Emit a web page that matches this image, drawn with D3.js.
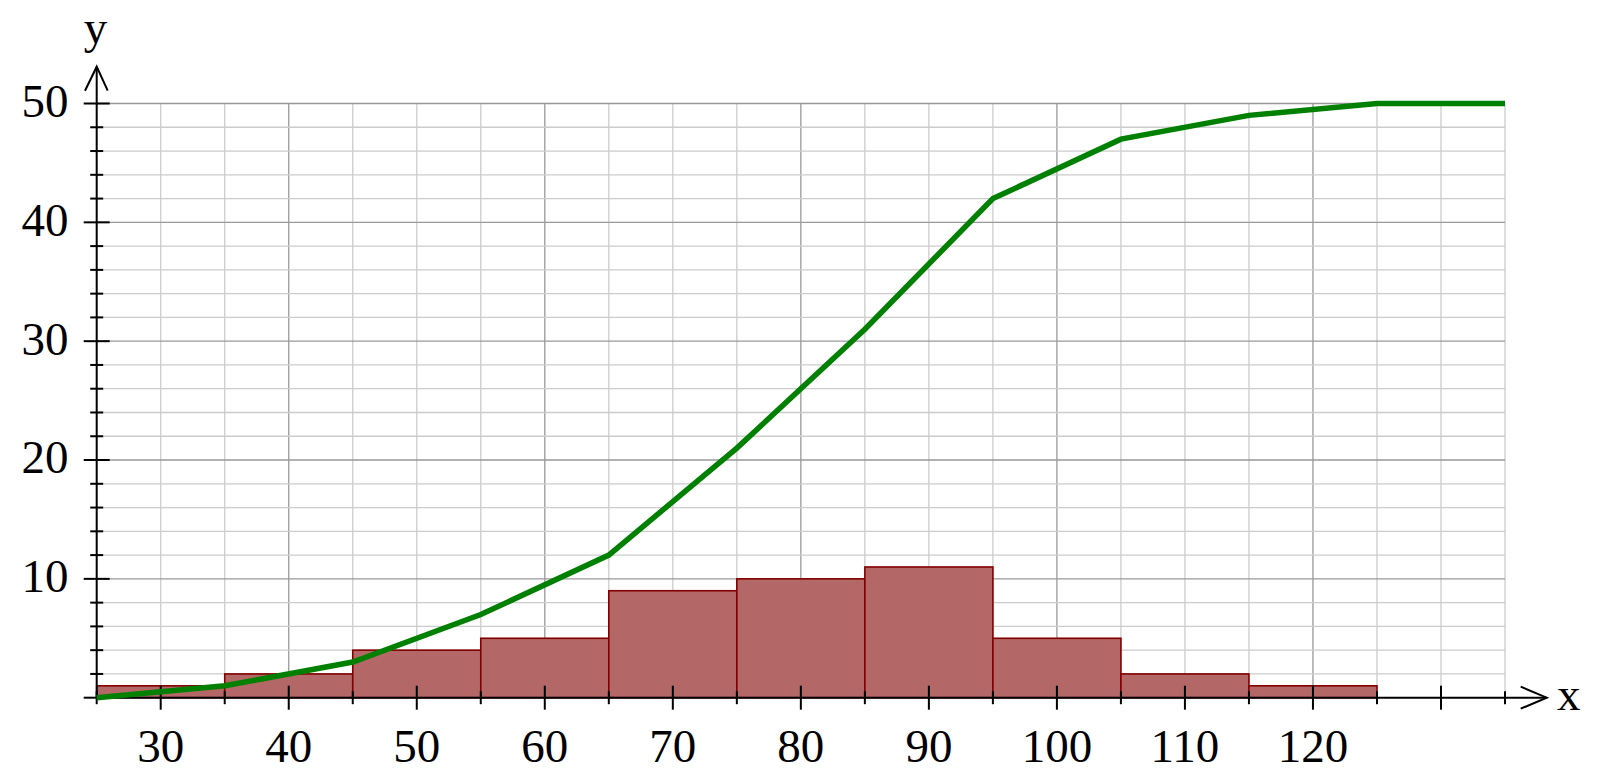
<!DOCTYPE html>
<html><head><meta charset="utf-8">
<script src="https://cdn.jsdelivr.net/npm/d3@7"></script>
<style>html,body{margin:0;padding:0;background:#fff;}svg{display:block;}</style>
</head><body>
<svg id="chart" width="1601" height="782"></svg>
<script>
const binStarts = [25, 35, 45, 55, 65, 75, 85, 95, 105, 115];
const binWidth = 10;
const frequencies = [1, 2, 4, 5, 9, 10, 11, 5, 2, 1];
const cumulativeX = [25, 35, 45, 55, 65, 75, 85, 95, 105, 115, 125, 135];
const cumulativeY = [0, 1, 3, 7, 12, 21, 31, 42, 47, 49, 50, 50];
const xTickLabels = [30, 40, 50, 60, 70, 80, 90, 100, 110, 120];
const yTickLabels = [10, 20, 30, 40, 50];

const svg = d3.select("#chart");
const x = d3.scaleLinear().domain([25, 135]).range([96.7, 1505]);
const y = d3.scaleLinear().domain([0, 50]).range([697.7, 103.5]);
const font = "'Liberation Serif','Times New Roman',serif";

// grid
const g = svg.append("g");
const vx = d3.range(30, 136, 5);
g.selectAll("line.v").data(vx).join("line")
  .attr("x1", d => x(d)).attr("x2", d => x(d))
  .attr("y1", y(0)).attr("y2", y(50))
  .attr("stroke", d => d % 20 === 0 ? "#999" : "#cccccc").attr("stroke-width", 1.3);
const hy = d3.range(2, 51, 2);
g.selectAll("line.h").data(hy).join("line")
  .attr("x1", x(25)).attr("x2", x(135))
  .attr("y1", d => y(d)).attr("y2", d => y(d))
  .attr("stroke", d => d % 10 === 0 ? "#999" : "#cccccc").attr("stroke-width", 1.3);

// bars
svg.append("g").selectAll("rect").data(binStarts).join("rect")
  .attr("x", d => x(d)).attr("width", d => x(d + binWidth) - x(d))
  .attr("y", (d, i) => y(frequencies[i]))
  .attr("height", (d, i) => y(0) - y(frequencies[i]))
  .attr("fill", "rgb(179,103,103)").attr("stroke", "#800000").attr("stroke-width", 1.6);

// axes
const ax = svg.append("g").attr("stroke", "#000");
ax.append("line").attr("x1", x(25)).attr("x2", 1546.7).attr("y1", y(0)).attr("y2", y(0)).attr("stroke-width", 2);
ax.append("line").attr("x1", x(25)).attr("x2", x(25)).attr("y1", y(0)).attr("y2", 66.7).attr("stroke-width", 2);
ax.append("path").attr("d", `M1520.7,686.7L1546.7,${y(0)}L1520.7,708.7`).attr("fill", "none").attr("stroke-width", 2);
ax.append("path").attr("d", `M85,90.7L${x(25)},66.7L107.7,90.7`).attr("fill", "none").attr("stroke-width", 2);

// x ticks
const xt = d3.range(25, 136, 5);
ax.selectAll("line.xt").data(xt).join("line")
  .attr("x1", d => x(d)).attr("x2", d => x(d))
  .attr("y1", d => y(0) - (d % 10 === 0 ? 12 : 6.5))
  .attr("y2", d => y(0) + (d % 10 === 0 ? 12 : 6.5))
  .attr("stroke-width", 2);
// y ticks
const yt = d3.range(0, 51, 2);
ax.selectAll("line.yt").data(yt).join("line")
  .attr("y1", d => y(d)).attr("y2", d => y(d))
  .attr("x1", d => x(25) - (d % 10 === 0 ? 13 : 6.5))
  .attr("x2", d => x(25) + (d % 10 === 0 ? 13 : 6.5))
  .attr("stroke-width", 2);

// labels
svg.append("g").selectAll("text").data(xTickLabels).join("text")
  .attr("x", d => x(d)).attr("y", 761.5).attr("text-anchor", "middle")
  .attr("font-family", font).attr("font-size", 47).text(d => d);
svg.append("g").selectAll("text").data(yTickLabels).join("text")
  .attr("x", 68.5).attr("y", d => y(d) + 13.4).attr("text-anchor", "end")
  .attr("font-family", font).attr("font-size", 47).text(d => d);
svg.append("text").attr("x", 95.5).attr("y", 43).attr("text-anchor", "middle")
  .attr("font-family", font).attr("font-size", 47).text("y");
svg.append("text").attr("x", 1557).attr("y", 710)
  .attr("font-family", font).attr("font-size", 47).text("x");

// cumulative line
const pts = cumulativeX.map((d, i) => [d, cumulativeY[i]]);
svg.append("path").datum(pts)
  .attr("d", d3.line().x(d => x(d[0])).y(d => y(d[1])))
  .attr("fill", "none").attr("stroke", "#008000").attr("stroke-width", 5.5);
</script>
</body></html>
